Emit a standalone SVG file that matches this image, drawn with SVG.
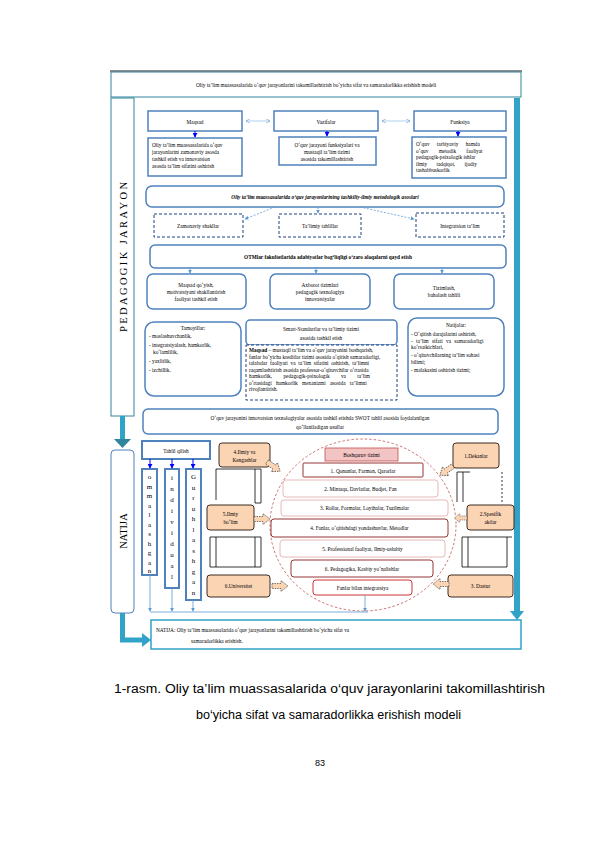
<svg xmlns="http://www.w3.org/2000/svg" xmlns:xlink="http://www.w3.org/1999/xlink" width="595" height="842" viewBox="0 0 595 842">
<style>
.t{font-family:"Liberation Serif",serif;font-size:5.3px;fill:#000}
.m{text-anchor:middle}
.b{fill:#fff;stroke:#4f81bd;stroke-width:1.5}
.d{fill:#fff;stroke:#1f3f7f;stroke-width:1;stroke-dasharray:3 2}
.o{fill:#fbd4b4;stroke:#3a2a20;stroke-width:1}
.k{fill:none;stroke:#000;stroke-width:0.8}
.c1{fill:#fff;stroke:#943634;stroke-width:1}
.c2{fill:#fff;stroke:#e6b8b7;stroke-width:1}
.ln{stroke:#9dc3e6;stroke-width:0.8;fill:none}
.bl{stroke:#0000ff;stroke-width:1;fill:none}
.lb{stroke:#5b9bd5;stroke-width:0.8;fill:none}
.tl{fill:#31a3c6}
.vl{font-family:"Liberation Serif",serif;font-size:7px;fill:#000;text-anchor:middle}
</style>
<defs>
<marker id="ab" viewBox="0 0 6 6" refX="5" refY="3" markerWidth="5" markerHeight="5" orient="auto"><path d="M0,0 L6,3 L0,6 z" fill="#0000ff"/></marker>
<marker id="al" viewBox="0 0 6 6" refX="5" refY="3" markerWidth="5" markerHeight="5" orient="auto"><path d="M0,0 L6,3 L0,6 z" fill="#5b9bd5"/></marker>
<marker id="ac" viewBox="0 0 8 8" refX="7" refY="4" markerWidth="6" markerHeight="6" orient="auto-start-reverse"><path d="M0,0 L7,4 L0,8" fill="none" stroke="#5b9bd5" stroke-width="1"/></marker>
<polygon id="ba" points="0,-2.5 9,-2.5 9,-5.5 16,0 9,5.5 9,2.5 0,2.5" fill="#fbd4b4" stroke="#444" stroke-width="0.7" stroke-dasharray="1.5 1"/>
</defs>

<g id="frame">
<line x1="110" y1="71" x2="522" y2="71" stroke="#8c8c8c" stroke-width="2"/>
<rect x="111" y="72" width="410" height="25" fill="#fff" stroke="#31859c" stroke-width="1"/>
<text class="t m" x="316" y="86.5" font-size="6.3">Oliy ta’lim muassasalarida o‘quv jarayonlarini takomillashtirish bo‘yicha sifat va samaradorlikka erishish modeli</text>
<rect class="tl" x="514" y="98" width="6" height="514"/>
<polygon class="tl" points="510,611 524,611 517,620"/>
</g>

<g id="pedagogik">
<rect x="111" y="98" width="23" height="318" fill="#fff" stroke="#31859c" stroke-width="1"/>
<text transform="translate(126.5,257) rotate(-90)" font-family="Liberation Serif, serif" font-size="10.5" text-anchor="middle" textLength="150" lengthAdjust="spacing">PEDAGOGIK JARAYON</text>
<rect class="tl" x="120" y="416" width="5" height="24"/>
<polygon fill="#31859c" points="114,439 131,439 122.5,448"/>
</g>

<g id="natija">
<rect x="111" y="450" width="23" height="163" rx="4" fill="#fff" stroke="#4f81bd" stroke-width="1"/>
<text transform="translate(126.5,531) rotate(-90)" font-family="Liberation Serif, serif" font-size="10.5" text-anchor="middle">NATIJA</text>
<path d="M122.5,613 V640 H143" stroke="#31a3c6" stroke-width="5" fill="none"/>
<polygon class="tl" points="142,633 151,640 142,647"/>
</g>

<g id="result">
<rect x="151" y="620" width="370" height="29" fill="#fff" stroke="#31a3c6" stroke-width="1.5"/>
<text class="t" x="156" y="631.5" font-size="6.2">NATIJA: Oliy ta’lim muassasalarida o‘quv jarayonlarini takomillashtirish bo‘yicha sifat va</text>
<text class="t" x="191" y="643" font-size="6.2">samaradorlikka erishish.</text>
</g>

<g id="maqsad"><rect class="b" x="148" y="111" width="94" height="20"/><text class="t m" x="195" y="124" font-size="7">Maqsad</text></g>
<g id="vazifalar"><rect class="b" x="274" y="111" width="104" height="20"/><text class="t m" x="326" y="124" font-size="7">Vazifalar</text></g>
<g id="funksiya"><rect class="b" x="414" y="111" width="92" height="20"/><text class="t m" x="460" y="124" font-size="7">Funksiya</text></g>

<g id="maqsad-text"><rect class="b" x="148" y="138" width="94" height="38"/>
<text class="t" x="152" y="147">Oliy ta’lim muassasalarida o‘quv</text>
<text class="t" x="152" y="154">jarayonlarini zamonaviy asosda</text>
<text class="t" x="152" y="161">tashkil etish va innovatsion</text>
<text class="t" x="152" y="168">asosda ta’lim sifatini oshirish</text></g>
<g id="vazifa-text"><rect class="b" x="279" y="137" width="97" height="28"/>
<text class="t m" x="327" y="147">O‘quv jarayoni funksiyalari va</text>
<text class="t m" x="327" y="154">mustaqil ta’lim tizimi</text>
<text class="t m" x="327" y="161">asosida takomillashtirish</text></g>
<g id="funksiya-text"><rect class="b" x="412" y="137" width="94" height="41"/>
<text class="t" x="416" y="146" word-spacing="6">O‘quv tarbiyaviy hamda</text>
<text class="t" x="416" y="152.5" word-spacing="9">o‘quv metodik faoliyat</text>
<text class="t" x="416" y="159">pedagogik-psixologik ishlar</text>
<text class="t" x="416" y="165.5" word-spacing="8">ilmiy tadqiqot, ijodiy</text>
<text class="t" x="416" y="172">tashabbuskorlik</text></g>

<g id="asoslar"><rect class="b" x="146" y="186" width="358" height="21" rx="6"/>
<text class="t m" x="325" y="199" font-size="7" font-weight="bold" font-style="italic">Oliy ta’lim muassasalarida o‘quv jarayonlarining tashkiliy-ilmiy metodologik asoslari</text></g>

<g id="shakllar"><rect class="d" x="154" y="214" width="89" height="23"/><text class="t m" x="198" y="227.5" font-size="6.5">Zamonaviy shakllar</text></g>
<g id="tahlillar"><rect class="d" x="279" y="214" width="82" height="23"/><text class="t m" x="320" y="227.5" font-size="6.5">Ta’limiy tahlillar</text></g>
<g id="integratsion"><rect class="d" x="416" y="213" width="88" height="24"/><text class="t m" x="460" y="227.5" font-size="6.5">Integratsion ta’lim</text></g>

<g id="otm"><rect class="b" x="150" y="245" width="356" height="23" rx="5"/>
<text class="t m" x="328" y="258.5" font-size="6.5" font-weight="bold">OTMlar fakultetlarida adabiyotlar bog‘liqligi o‘zaro aloqalarni qayd etish</text></g>

<g id="r6a"><rect class="b" x="147" y="274" width="99" height="35" rx="6"/>
<text class="t m" x="196" y="287" font-size="6">Maqsad qo‘yish,</text>
<text class="t m" x="196" y="294" font-size="6">motivatsiyani shakllantirish</text>
<text class="t m" x="196" y="301" font-size="6">faoliyat tashkil etish</text></g>
<g id="r6b"><rect class="b" x="270" y="274" width="100" height="35" rx="6"/>
<text class="t m" x="320" y="287" font-size="6">Axborot tizimlari</text>
<text class="t m" x="320" y="294" font-size="6">pedagogik texnologiya</text>
<text class="t m" x="320" y="301" font-size="6">innovatsiyalar</text></g>
<g id="r6c"><rect class="b" x="394" y="274" width="100" height="35" rx="6"/>
<text class="t m" x="444" y="290" font-size="6">Tizimlash,</text>
<text class="t m" x="444" y="297" font-size="6">baholash tahlili</text></g>

<g id="tamoyillar"><rect class="b" x="145" y="322" width="96" height="74" rx="9"/>
<text class="t m" x="193" y="329.5" font-size="6">Tamoyillar:</text>
<text class="t" x="149" y="338" font-size="5.8">- moslashuvchanlik,</text>
<text class="t" x="149" y="347" font-size="5.8">- integratsiyalash, hamkorlik,</text>
<text class="t" x="153" y="353.5" font-size="5.8">ko‘lamlilik,</text>
<text class="t" x="149" y="363" font-size="5.8">- yaxlitlik,</text>
<text class="t" x="149" y="372" font-size="5.8">- izchillik.</text></g>
<g id="smart"><rect class="b" x="246" y="320" width="151" height="25" rx="4"/>
<text class="t m" x="321" y="331" font-size="6">Smart-Standartlar va ta’limiy tizimi</text>
<text class="t m" x="321" y="339.5" font-size="6">asosida tashkil etish</text></g>
<g id="smart-maqsad"><rect class="d" x="246" y="345" width="151" height="55"/>
<text class="t" x="249" y="352"><tspan font-weight="bold">Maqsad</tspan> – mustaqil ta’lim va o‘quv jarayonini boshqarish,</text>
<text class="t" x="249" y="358.5">fanlar bo‘yicha kreditlar tizimi asosida o‘qitish samaradorligi,</text>
<text class="t" x="249" y="365" word-spacing="1.5">talabalar faoliyati va ta’lim sifatini oshirish, ta’limni</text>
<text class="t" x="249" y="371.5">raqamlashtirish asosida professor-o‘qituvchilar o‘rtasida</text>
<text class="t" x="249" y="378" word-spacing="10">hamkorlik, pedagogik-psixologik va ta’lim</text>
<text class="t" x="249" y="384.5" word-spacing="3">o‘rtasidagi hamkorlik mexanizmi asosida ta’limni</text>
<text class="t" x="249" y="391">rivojlantirish.</text></g>
<g id="natijalar"><rect class="b" x="408" y="318" width="96" height="78" rx="9"/>
<text class="t m" x="456" y="327" font-size="6">Natijalar:</text>
<text class="t" x="411" y="335.5">- O‘qitish darajalarini oshirish,</text>
<text class="t" x="411" y="342.5" word-spacing="2">- ta’lim sifati va samaradorligi</text>
<text class="t" x="411" y="349">ko‘rsatkichlari,</text>
<text class="t" x="411" y="357">- o‘qituvchilarning ta’lim sohasi</text>
<text class="t" x="411" y="363.5">bilimi;</text>
<text class="t" x="411" y="372">- malakasini oshirish tizimi;</text></g>

<g id="swot"><rect class="b" x="143" y="409" width="355" height="25" rx="5"/>
<text class="t m" x="320" y="419.5" font-size="6">O‘quv jarayonini innovatsion texnologiyalar asosida tashkil etishda SWOT tahlil asosida foydalanilgan</text>
<text class="t m" x="320" y="429" font-size="6">qo‘llaniladigan usullar</text></g>

<g id="tahlil"><rect x="142" y="441" width="68" height="18" fill="#fff" stroke="#4f81bd" stroke-width="2"/><text class="t m" x="176" y="452.5" font-size="7">Tahlil qilish</text></g>
<g id="v1"><rect x="142" y="469" width="15" height="106" fill="#fff" stroke="#4f81bd" stroke-width="2"/>
<text class="vl" x="149.5" y="479">o</text><text class="vl" x="149.5" y="488.5">m</text><text class="vl" x="149.5" y="498">m</text><text class="vl" x="149.5" y="507.5">a</text><text class="vl" x="149.5" y="517">l</text><text class="vl" x="149.5" y="526.5">a</text><text class="vl" x="149.5" y="536">s</text><text class="vl" x="149.5" y="545.5">h</text><text class="vl" x="149.5" y="555">g</text><text class="vl" x="149.5" y="564.5">a</text><text class="vl" x="149.5" y="573">n</text></g>
<g id="v2"><rect x="165" y="469" width="14" height="119" fill="#fff" stroke="#4f81bd" stroke-width="2"/>
<text class="vl" x="172" y="480">i</text><text class="vl" x="172" y="491">n</text><text class="vl" x="172" y="502">d</text><text class="vl" x="172" y="513">i</text><text class="vl" x="172" y="524">v</text><text class="vl" x="172" y="535">i</text><text class="vl" x="172" y="546">d</text><text class="vl" x="172" y="557">u</text><text class="vl" x="172" y="568">a</text><text class="vl" x="172" y="579">l</text></g>
<g id="v3"><rect x="186" y="469" width="15" height="131" fill="#fff" stroke="#4f81bd" stroke-width="2"/>
<text class="vl" x="193.5" y="479">G</text><text class="vl" x="193.5" y="489.5">u</text><text class="vl" x="193.5" y="500">r</text><text class="vl" x="193.5" y="510.5">u</text><text class="vl" x="193.5" y="521">h</text><text class="vl" x="193.5" y="531.5">l</text><text class="vl" x="193.5" y="542">a</text><text class="vl" x="193.5" y="552.5">s</text><text class="vl" x="193.5" y="563">h</text><text class="vl" x="193.5" y="573.5">g</text><text class="vl" x="193.5" y="584">a</text><text class="vl" x="193.5" y="594.5">n</text></g>

<g id="o1"><rect class="o" x="219" y="443" width="51" height="24" rx="3"/><text class="t m" x="244.5" y="453.5" font-size="6">4.Ilmiy va</text><text class="t m" x="244.5" y="461.5" font-size="6">Kengashlar</text></g>
<g id="o5"><rect class="o" x="207" y="505" width="47" height="25" rx="3"/><text class="t m" x="230.5" y="515.5" font-size="6">5.Ilmiy</text><text class="t m" x="230.5" y="524" font-size="6">bo‘lim</text></g>
<g id="o6"><rect class="o" x="207" y="575" width="63" height="22" rx="3"/><text class="t m" x="238.5" y="588" font-size="6">6.Universitet</text></g>
<g id="r1"><rect class="o" x="453" y="443" width="46" height="25" rx="3"/><text class="t m" x="476" y="457.5" font-size="6">1.Dekanlar</text></g>
<g id="r2"><rect class="o" x="467" y="505" width="47" height="25" rx="3"/><text class="t m" x="490.5" y="515.5" font-size="6">2.Spesifik</text><text class="t m" x="490.5" y="524" font-size="6">aktlar</text></g>
<g id="r3"><rect class="o" x="448" y="575" width="65" height="22" rx="3"/><text class="t m" x="480.5" y="588" font-size="6">3. Dastur</text></g>

<g id="brackets">
<path class="k" d="M216,469 H261 V503 M255,469 V503 M216,469 V500 M255,503 H261"/>
<path class="k" d="M210,537 H261 V567 H210 Z M216,537 V567 M255,537 V567"/>
<path class="k" d="M457,472 V502 M463,472 V502 M457,472 H470"/>
<path class="k" d="M502,472 V502" stroke-dasharray="2 2"/>
<path class="k" d="M462,537 H512 M462,537 V567 H507 M468,537 V567 M507,537 V567"/>
</g>

<g id="circle">
<ellipse cx="363" cy="525" rx="93" ry="86" fill="none" stroke="#c0504d" stroke-width="0.8" stroke-dasharray="2.5 2"/>
<rect x="325" y="448" width="73" height="13" fill="#f2c4c4" stroke="#c0504d" stroke-width="0.8"/><text class="t m" x="361.5" y="457" font-size="6">Boshqaruv tizimi</text>
<rect class="c1" x="303" y="463" width="120" height="14" rx="1"/><text class="t m" x="363" y="472.5" font-size="6">1. Qonunlar, Farmon, Qarorlar</text>
<rect class="c2" x="283" y="480" width="155" height="17" rx="3"/><text class="t m" x="360.5" y="490.5" font-size="6">2. Mintaqa, Davlatlar, Budjet, Fan</text>
<rect class="c2" x="281" y="500" width="167" height="16" rx="3"/><text class="t m" x="364.5" y="510" font-size="6">3. Rollar, Formalar, Loyihalar, Tuzilmalar</text>
<rect class="c1" x="271" y="519" width="177" height="18" rx="3"/><text class="t m" x="359.5" y="530" font-size="6">4. Fanlar, o‘qitishdagi yondashuvlar, Metodlar</text>
<rect class="c2" x="280" y="540" width="165" height="17" rx="3"/><text class="t m" x="362.5" y="550.5" font-size="6">5. Professional faoliyat, Ilmiy-uslubiy</text>
<rect class="c1" x="291" y="560" width="142" height="17" rx="3"/><text class="t m" x="362" y="570.5" font-size="6">6. Pedagogika, Kasbiy yo‘nalishlar</text>
<rect x="313" y="580" width="99" height="15" rx="3" fill="#fff" stroke="#c00000" stroke-width="0.8"/><text class="t m" x="362.5" y="590" font-size="6">Fanlar bilan integratsiya</text>
</g>

<g id="connectors">
<line class="ln" x1="246" y1="121" x2="270" y2="121" stroke="#5b9bd5" marker-start="url(#ac)" marker-end="url(#ac)"/>
<line class="ln" x1="382" y1="121" x2="410" y2="121" stroke="#5b9bd5" marker-start="url(#ac)" marker-end="url(#ac)"/>
<line class="bl" x1="195" y1="131" x2="195" y2="137" marker-end="url(#ab)"/>
<line class="bl" x1="327" y1="131" x2="327" y2="136" marker-end="url(#ab)"/>
<line class="bl" x1="458" y1="131" x2="458" y2="136" marker-end="url(#ab)"/>
<line class="lb" x1="275" y1="207" x2="245" y2="219" stroke-dasharray="2 1.5" marker-end="url(#al)"/>
<line class="lb" x1="318" y1="207" x2="318" y2="213" stroke-dasharray="2 1.5" marker-end="url(#al)"/>
<line class="lb" x1="360" y1="207" x2="414" y2="219" stroke-dasharray="2 1.5" marker-end="url(#al)"/>
<line class="lb" x1="190" y1="268" x2="190" y2="273" marker-end="url(#al)"/>
<line class="lb" x1="316" y1="268" x2="316" y2="273" marker-end="url(#al)"/>
<line class="lb" x1="442" y1="268" x2="442" y2="273" marker-end="url(#al)"/>
<line class="bl" x1="150" y1="459" x2="150" y2="468" marker-end="url(#ab)"/>
<line class="bl" x1="172" y1="459" x2="172" y2="468" marker-end="url(#ab)"/>
<line class="bl" x1="193" y1="459" x2="193" y2="468" marker-end="url(#ab)"/>
<line class="lb" x1="150" y1="575" x2="150" y2="611" marker-end="url(#al)"/>
<line class="lb" x1="172" y1="588" x2="172" y2="611" marker-end="url(#al)"/>
<line class="lb" x1="193" y1="600" x2="193" y2="611" marker-end="url(#al)"/>
<line class="lb" x1="150" y1="612" x2="368" y2="612"/>
<line class="lb" x1="365" y1="595" x2="365" y2="611" marker-end="url(#al)"/>
<use xlink:href="#ba" transform="translate(267,462) rotate(35)"/>
<use xlink:href="#ba" transform="translate(254,519)"/>
<use xlink:href="#ba" transform="translate(272,586)"/>
<use xlink:href="#ba" transform="translate(453,466) rotate(145)"/>
<use xlink:href="#ba" transform="translate(467,518) rotate(180) scale(0.8)"/>
<use xlink:href="#ba" transform="translate(449,584) rotate(180)"/>
</g>

<text x="114" y="693" font-family="Liberation Sans, Arial, sans-serif" font-size="12" textLength="431" lengthAdjust="spacingAndGlyphs" fill="#000">1-rasm. Oliy ta’lim muassasalarida o‘quv jarayonlarini takomillashtirish</text>
<text x="196" y="719" font-family="Liberation Sans, Arial, sans-serif" font-size="12" textLength="265" lengthAdjust="spacingAndGlyphs" fill="#000">bo‘yicha sifat va samaradorlikka erishish modeli</text>
<text x="320" y="766" font-family="Liberation Sans, Arial, sans-serif" font-size="9" text-anchor="middle" fill="#000">83</text>
</svg>
